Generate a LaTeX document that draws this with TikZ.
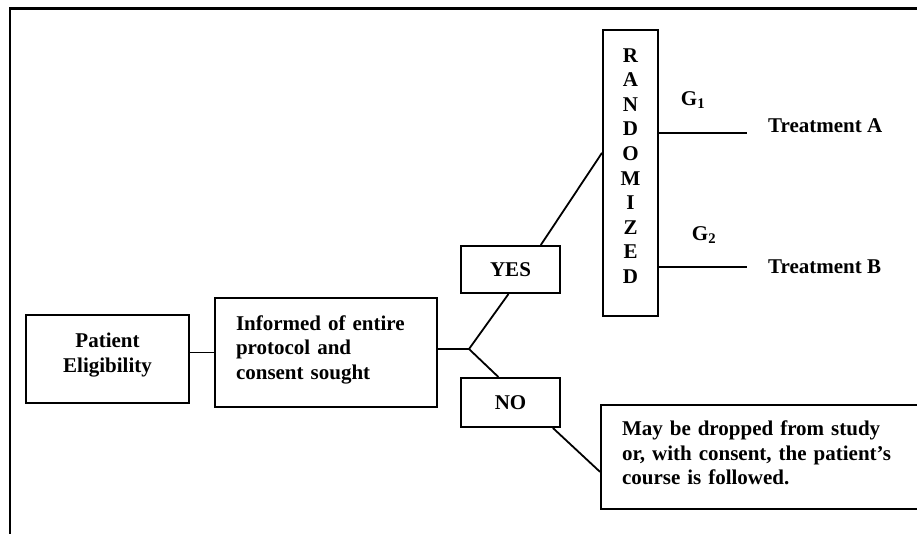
\documentclass[tikz,border=0pt]{standalone}
\usepackage{fontspec}
\setmainfont{Liberation Serif}
\usetikzlibrary{calc}

\begin{document}
\begin{tikzpicture}[x=1pt, y=-1pt,
    every node/.style={font=\bfseries\fontsize{21}{24.5}\selectfont, inner sep=0pt},
    box/.style={draw, rectangle, line width=2pt},
    link/.style={line width=1.8pt}]
  \clip (0,0) rectangle (917,533);
  % outer frame (cut at right and bottom)
  \draw[line width=2.3pt] (10,545) -- (10,8.5) -- (930,8.5);

  % eligibility and consent
  \node[box, minimum width=163pt, minimum height=88pt, align=center, text depth=12.6pt] (pat) at (107.5,359) {Patient\\Eligibility};
  \node[box, minimum width=222pt, minimum height=109pt, text width=180pt, align=left, text depth=59.6pt] (inf) at (326,352.5) {Informed of entire\\protocol and\\consent sought};
  \coordinate (jn) at (469,349);

  % answers
  \node[box, minimum width=99pt, minimum height=47pt] (yes) at (510.5,269.5) {YES};
  \node[box, minimum width=99pt, minimum height=49pt] (no) at (510.5,402.5) {NO};

  % randomization
  \node[box, minimum width=55pt, minimum height=286pt, align=center, text depth=14pt,
        font=\bfseries\fontsize{21}{24.6}\selectfont] (rand) at (630.5,173)
        {R\\A\\N\\D\\O\\M\\I\\Z\\E\\D};
  \node (g1) at (693,100) {G\textsubscript{1}};
  \node (g2) at (704,235) {G\textsubscript{2}};
  \coordinate (ca) at (747,133);
  \coordinate (cb) at (747,267);
  \node[anchor=west] (trA) at (768,126) {Treatment A};
  \node[anchor=west] (trB) at (768,267) {Treatment B};

  % not consenting
  \node[box, minimum width=329pt, minimum height=104pt, text width=287pt, align=left, text depth=57.6pt] (drop) at (765.5,457) {May be dropped from study\\or, with consent, the patient’s\\course is followed.};

  % connectors
  \draw[link] (inf.west -| pat.east) -- (inf.west);
  \draw[link] (inf.east |- jn) -- (jn);
  \draw[link] (jn) -- ($(yes.south west)!0.48!(yes.south east)$);
  \draw[link] (jn) -- ($(no.north west)!0.38!(no.north east)$);
  \draw[link] ($(yes.north west)!0.8!(yes.north east)$) -- ($(rand.north west)!0.43!(rand.south west)$);
  \draw[link] (rand.east |- ca) -- (ca);
  \draw[link] (rand.east |- cb) -- (cb);
  \draw[link] ($(no.south west)!0.92!(no.south east)$) -- ($(drop.north west)!0.64!(drop.south west)$);
\end{tikzpicture}
\end{document}
